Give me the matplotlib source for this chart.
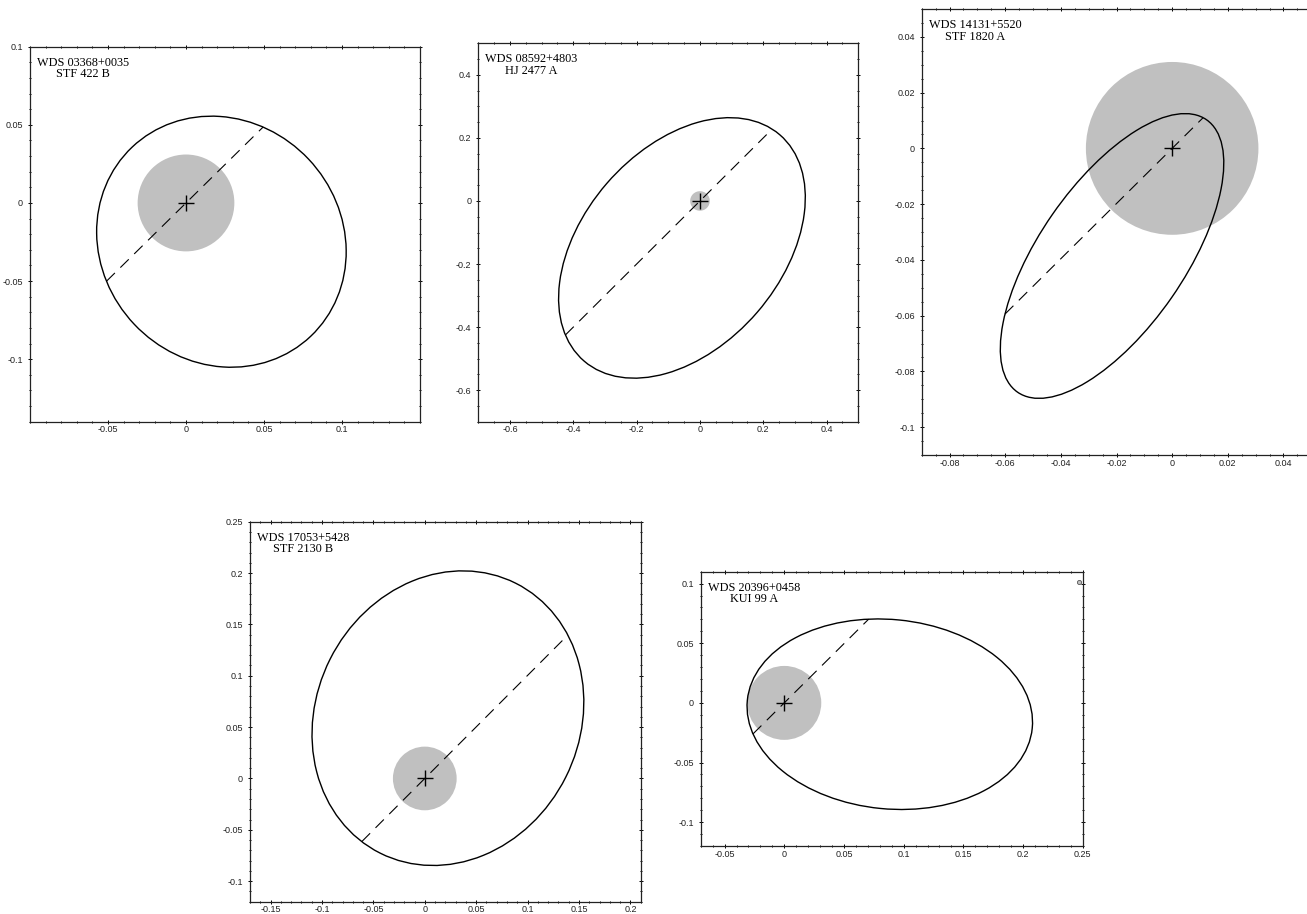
import numpy as np
import matplotlib
matplotlib.use('Agg')
import matplotlib.pyplot as plt
from matplotlib.patches import Ellipse
from matplotlib.ticker import MultipleLocator, FixedLocator, FuncFormatter
from matplotlib import font_manager

# ---------------- data ----------------
wds_ids = ["WDS 03368+0035", "WDS 08592+4803", "WDS 14131+5520",
           "WDS 17053+5428", "WDS 20396+0458"]
names = ["STF 422 B", "HJ 2477 A", "STF 1820 A", "STF 2130 B", "KUI 99 A"]

# apparent orbit ellipses: centre, semi-axes and orientation (deg)
orbit_cx = [0.0227, -0.0569, -0.0216, 0.0225, 0.0884]
orbit_cy = [-0.0248, -0.1489, -0.0386, 0.0587, -0.0095]
orbit_a = [0.0833, 0.4735, 0.0595, 0.1470, 0.1199]
orbit_b = [0.0769, 0.3133, 0.0261, 0.1282, 0.0794]
orbit_pa = [-46.6, 49.3, 55.2, 63.4, -5.6]
# direction of the line of nodes through the primary (deg)
node_angle = [44.5, 45.0, 44.7, 45.1, 44.8]
# radius of the grey resolution disc
disc_radius = [0.031, 0.031, 0.031, 0.031, 0.031]

x_limits = [(-0.10, 0.15), (-0.7, 0.5), (-0.09, 0.05), (-0.17, 0.21), (-0.07, 0.25)]
y_limits = [(-0.14, 0.10), (-0.7, 0.5), (-0.11, 0.05), (-0.12, 0.25), (-0.12, 0.11)]
x_major = [[-0.05, 0, 0.05, 0.1],
           [-0.6, -0.4, -0.2, 0, 0.2, 0.4],
           [-0.08, -0.06, -0.04, -0.02, 0, 0.02, 0.04],
           [-0.15, -0.1, -0.05, 0, 0.05, 0.1, 0.15, 0.2],
           [-0.05, 0, 0.05, 0.1, 0.15, 0.2, 0.25]]
y_major = [[-0.1, -0.05, 0, 0.05, 0.1],
           [-0.6, -0.4, -0.2, 0, 0.2, 0.4],
           [-0.1, -0.08, -0.06, -0.04, -0.02, 0, 0.02, 0.04],
           [-0.1, -0.05, 0, 0.05, 0.1, 0.15, 0.2, 0.25],
           [-0.1, -0.05, 0, 0.05, 0.1]]
minor_step = [0.01, 0.05, 0.005, 0.01, 0.01]
extra_mark_x = [0.247]
extra_mark_y = [0.101]

# ---------------- layout (pixels: left, top, right, bottom) ----------------
W, H = 1307, 914
panel_px = [(30, 46.7, 420, 421.7),
            (478.3, 43.3, 858.3, 421.7),
            (921.7, 9, 1311.3, 455),
            (250, 521.7, 640.7, 901.7),
            (700.7, 571.7, 1082.7, 846)]

available = {f.name for f in font_manager.fontManager.ttflist}
tick_family = 'Liberation Sans Narrow' if 'Liberation Sans Narrow' in available else 'Liberation Sans'
plt.rcParams['lines.scale_dashes'] = False

fig = plt.figure(figsize=(W / 100, H / 100), dpi=100)
fig.patch.set_facecolor('white')


def fmt(v, pos):
    v = round(v, 6)
    if v == 0:
        return '0'
    return ('%g' % v)


def node_points(cx, cy, a, b, pa, phi):
    th = np.deg2rad(pa)
    ph = np.deg2rad(phi)
    u = np.array([np.cos(ph), np.sin(ph)])
    rot = np.array([[np.cos(th), np.sin(th)], [-np.sin(th), np.cos(th)]])
    d = rot @ u
    q = rot @ (-np.array([cx, cy]))
    A = d[0] ** 2 / a ** 2 + d[1] ** 2 / b ** 2
    B = 2 * (q[0] * d[0] / a ** 2 + q[1] * d[1] / b ** 2)
    C = q[0] ** 2 / a ** 2 + q[1] ** 2 / b ** 2 - 1
    disc = np.sqrt(B * B - 4 * A * C)
    t1 = (-B - disc) / (2 * A)
    t2 = (-B + disc) / (2 * A)
    return [t1 * u[0], t2 * u[0]], [t1 * u[1], t2 * u[1]]


for i in range(5):
    l, t, r, btm = panel_px[i]
    ax = fig.add_axes([l / W, 1 - btm / H, (r - l) / W, (btm - t) / H])
    ax.set_xlim(*x_limits[i])
    ax.set_ylim(*y_limits[i])

    ax.add_patch(Ellipse((0, 0), 2 * disc_radius[i], 2 * disc_radius[i],
                         facecolor='#c0c0c0', edgecolor='none', zorder=1))
    ax.add_patch(Ellipse((orbit_cx[i], orbit_cy[i]), 2 * orbit_a[i], 2 * orbit_b[i],
                         angle=orbit_pa[i], fill=False, edgecolor='black',
                         linewidth=1.0, zorder=3))
    nx, ny = node_points(orbit_cx[i], orbit_cy[i], orbit_a[i], orbit_b[i],
                         orbit_pa[i], node_angle[i])
    ax.plot(nx, ny, color='black', linewidth=0.8, dashes=(8.5, 5.5), zorder=2)
    ax.plot([0], [0], marker='+', markersize=12, markeredgewidth=1.0,
            color='black', linestyle='none', zorder=4)

    if i == 4:
        ax.plot(extra_mark_x, extra_mark_y, marker='o', markersize=3,
                markerfacecolor='#c0c0c0', markeredgecolor='#555555',
                markeredgewidth=0.6, linestyle='none', zorder=4, clip_on=False)

    ax.annotate(wds_ids[i] + "\n" + names[i], xy=(0, 1), xycoords='axes fraction',
                xytext=(7, -10), textcoords='offset pixels', ha='left', va='top',
                multialignment='center', fontfamily='Liberation Serif',
                fontsize=8.8, linespacing=0.95)

    ax.xaxis.set_major_locator(FixedLocator(x_major[i]))
    ax.yaxis.set_major_locator(FixedLocator(y_major[i]))
    ax.xaxis.set_minor_locator(MultipleLocator(minor_step[i]))
    ax.yaxis.set_minor_locator(MultipleLocator(minor_step[i]))
    ax.xaxis.set_major_formatter(FuncFormatter(fmt))
    ax.yaxis.set_major_formatter(FuncFormatter(fmt))
    ax.tick_params(which='both', direction='inout', top=True, right=True,
                   labeltop=False, labelright=False, width=0.7, colors='black')
    ax.tick_params(which='major', length=3, labelsize=6.5, labelcolor='#222222')
    ax.tick_params(which='minor', length=2)
    ax.tick_params(axis='x', which='major', pad=1.2)
    ax.tick_params(axis='y', which='major', pad=3.5)
    for lab in ax.get_xticklabels() + ax.get_yticklabels():
        lab.set_fontfamily(tick_family)
    for s in ax.spines.values():
        s.set_linewidth(0.9)
        s.set_color('#222222')

fig.savefig('out.png', dpi=100, facecolor='white')
